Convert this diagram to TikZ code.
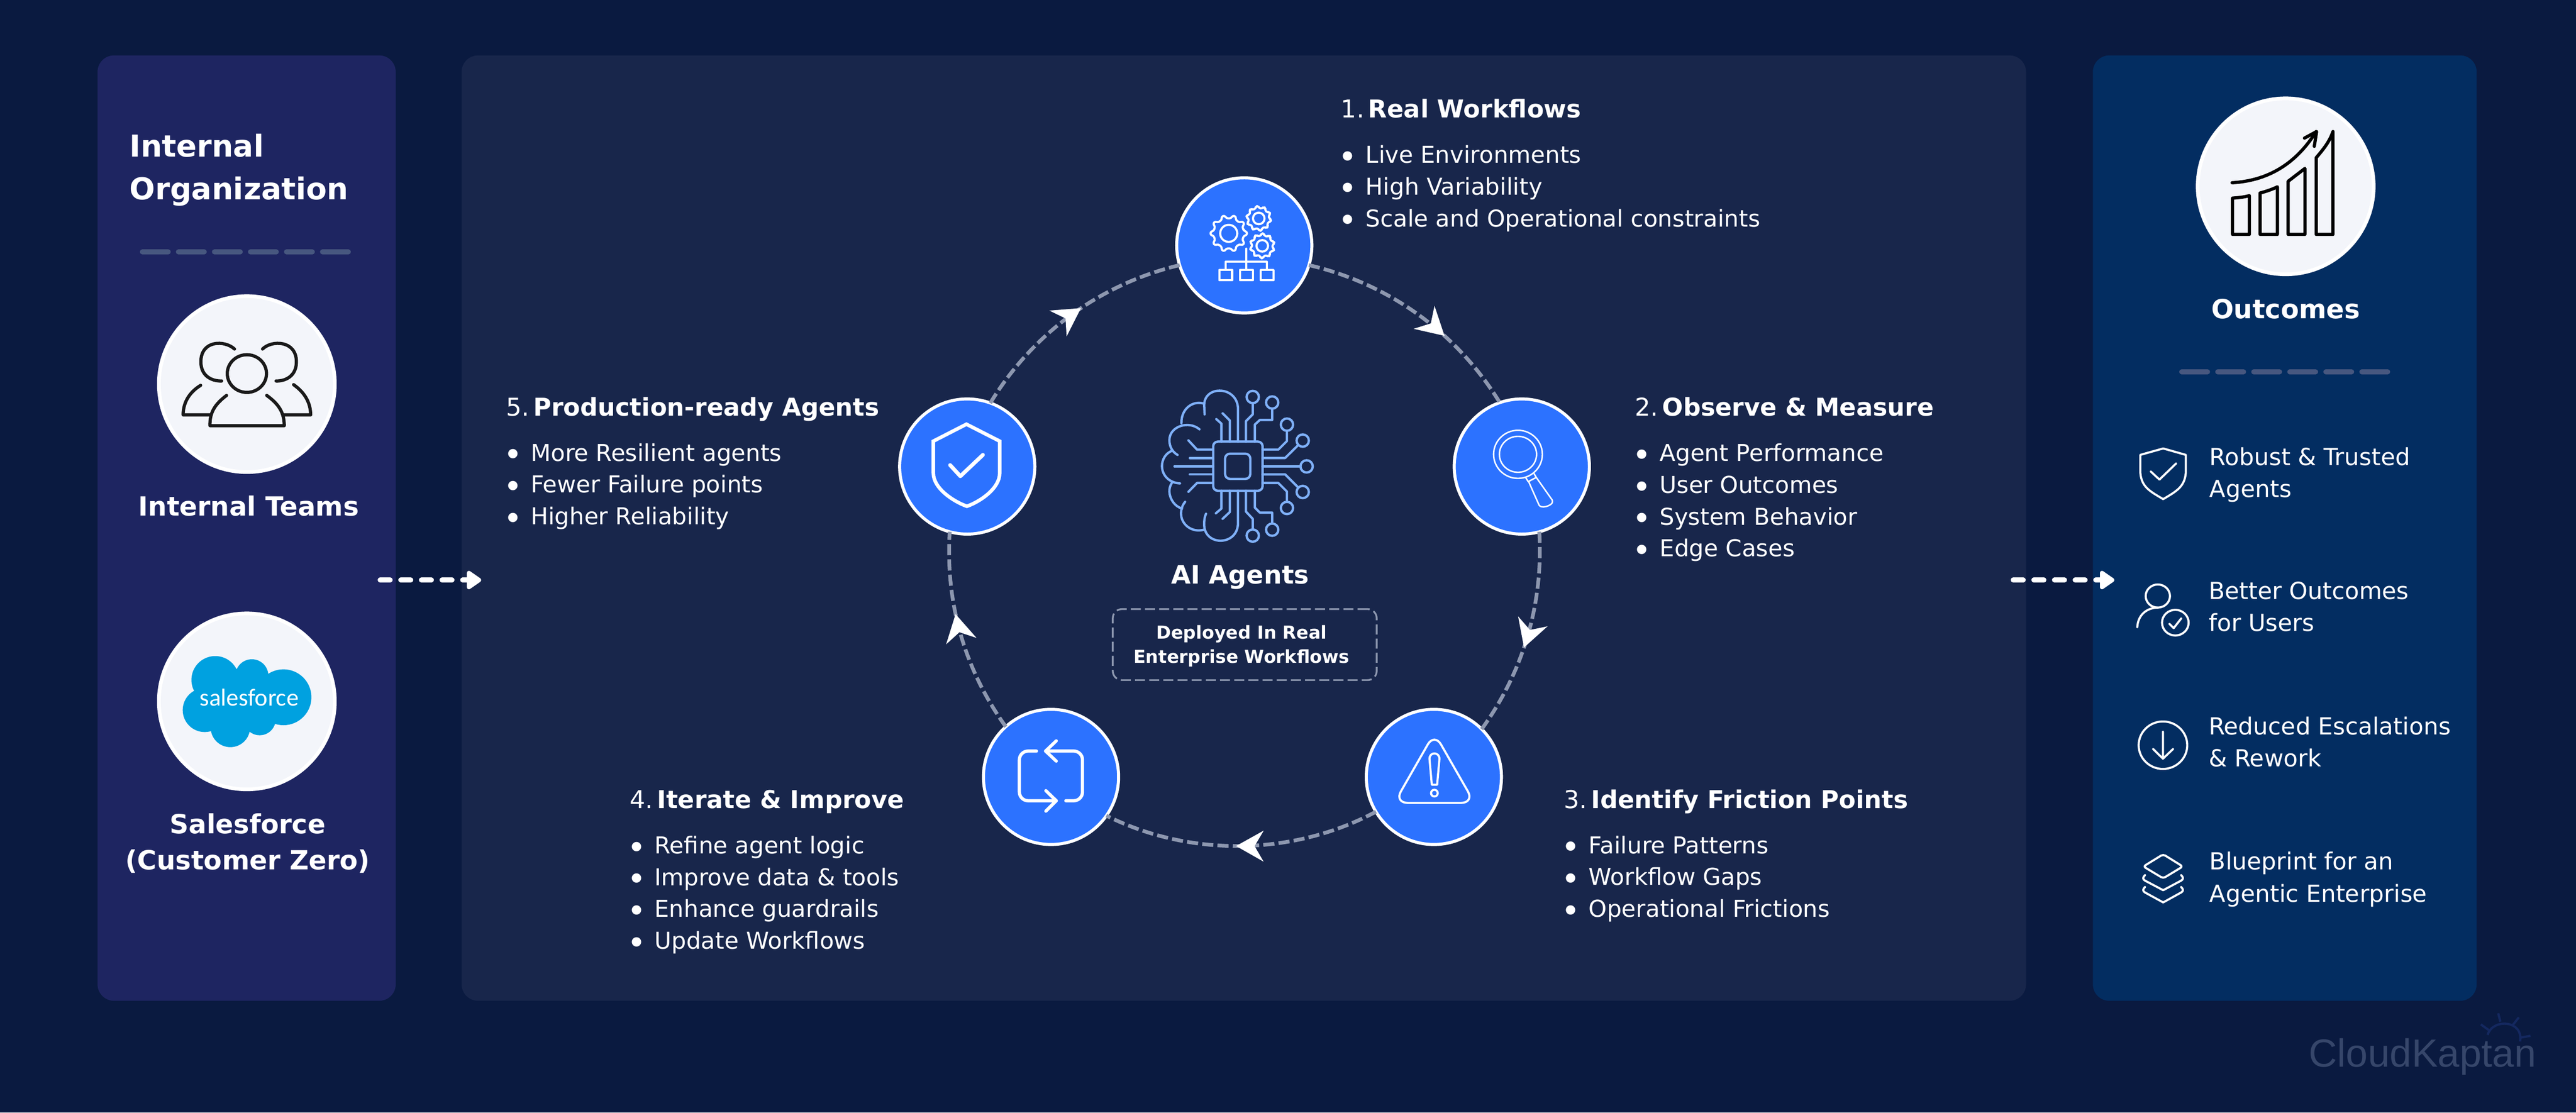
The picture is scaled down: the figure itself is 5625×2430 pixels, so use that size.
\documentclass[tikz,border=0pt]{standalone}
\usepackage{fontspec}
\setmainfont{DejaVu Sans}
\newfontfamily\cloudfont{Carlito}
\newfontfamily\logofont{Liberation Sans}
\usetikzlibrary{arrows.meta,decorations.markings}
\definecolor{bgc}{HTML}{0A1A40}
\definecolor{leftc}{HTML}{1E2561}
\definecolor{midc}{HTML}{18264B}
\definecolor{rightc}{HTML}{032D61}
\definecolor{bluec}{HTML}{2C72FF}
\definecolor{lightc}{HTML}{F3F5FA}
\definecolor{ringc}{HTML}{8D97AF}
\definecolor{brainc}{HTML}{7FB0F8}
\definecolor{sepc}{HTML}{47577F}
\definecolor{sfc}{HTML}{00A1E0}
\definecolor{logoc}{HTML}{36466A}
\definecolor{sunc}{HTML}{14285F}
\definecolor{inkc}{HTML}{1A1A1A}
\tikzset{
  panel/.style={rounded corners=0.36cm},
  bluedisc/.style={circle,draw=white,fill=bluec,line width=1.9pt,minimum size=2.95cm,inner sep=0,outer sep=0},
  lightdisc/.style={circle,draw=white,fill=lightc,line width=2.3pt,minimum size=3.84cm,inner sep=0,outer sep=0},
  txt/.style={text=white,inner sep=0,outer sep=0},
  blocktxt/.style={txt,anchor=base west,align=left,font=\fontsize{14.45}{19.75}\selectfont},
  outtxt/.style={txt,anchor=base west,align=left,font=\fontsize{14.6}{19.9}\selectfont},
  boldtxt/.style={txt,anchor=base,align=center,font=\fontsize{16.4}{22.2}\selectfont\bfseries},
  sepline/.style={draw=sepc,line width=3.2pt,line cap=round,dash pattern=on 16pt off 6.37pt},
  ringline/.style={draw=ringc,line width=2.3pt,dash pattern=on 6.9pt off 2.6pt,looseness=.89},
  ringtip/.style={postaction={decorate,decoration={markings,mark=at position #1 with {\arrow{Stealth[length=17pt,width=19pt,inset=5.5pt,white]}}}}},
  flowline/.style={draw=white,line width=3.1pt,line cap=round,dash pattern=on 6.26pt off 6.55pt,-{Triangle[length=10pt,width=13pt,round,white]}},
  whiteicon/.style={draw=white,line width=1.3pt,line join=round,line cap=round},
  thickicon/.style={draw=white,line width=2pt,line join=round,line cap=round},
  inkicon/.style={draw=inkc,line width=2pt,line join=round,line cap=round},
  brainline/.style={draw=brainc,line width=1.45pt,line join=round,line cap=round},
}
\newcommand\bl[1]{\makebox[15.4pt][l]{\hspace*{-1.6pt}\raisebox{-3.1pt}{\fontsize{20}{20}\selectfont•}}#1}
\newcommand\tit[2]{{\fontsize{15.25}{19.75}\selectfont\makebox[17pt][l]{#1}\textbf{#2}}}
\newcommand\gear[6]{% cx cy ro ri n phase
  \def\gs{(360/#5)}
  \draw[whiteicon,rounded corners=1pt] ({#1+#4*cos(#6-0.25*\gs)},{#2+#4*sin(#6-0.25*\gs)})
    \foreach \i in {1,...,#5}{
      -- ({#1+#3*cos(#6+(\i-1)*\gs-0.15*\gs)},{#2+#3*sin(#6+(\i-1)*\gs-0.15*\gs)})
      -- ({#1+#3*cos(#6+(\i-1)*\gs+0.15*\gs)},{#2+#3*sin(#6+(\i-1)*\gs+0.15*\gs)})
      -- ({#1+#4*cos(#6+(\i-1)*\gs+0.25*\gs)},{#2+#4*sin(#6+(\i-1)*\gs+0.25*\gs)})
      -- ({#1+#4*cos(#6+(\i-1)*\gs+0.75*\gs)},{#2+#4*sin(#6+(\i-1)*\gs+0.75*\gs)})
    } -- cycle;
}
\begin{document}
\begin{tikzpicture}[x=0.01cm,y=-0.01cm]
\useasboundingbox (0,0) rectangle (5625,2430);
\fill[bgc] (0,0) rectangle (5625,2430);
% panels
\fill[leftc,panel] (213,121) rectangle (864,2186);
\fill[midc,panel] (1008,121) rectangle (4424,2186);
\fill[rightc,panel] (4570,121) rectangle (5408,2186);

% left panel
\node[txt,anchor=base west,align=left,font=\fontsize{18.7}{26.7}\selectfont\bfseries] (orgt) at (283,436) {Internal\\Organization};
\draw[sepline] (311,550) -- (761,550);
\node[lightdisc] (teams) at (539,839) {};
\node[boldtxt] (teamst) at (543,1127) {Internal Teams};
\begin{scope}[shift={(200,100)},x=0.0051cm,y=-0.00734cm]
  \draw[inkicon] (665,975) ellipse [x radius=84,y radius=56];
  \draw[inkicon] (578,1040) .. controls (530,1065) and (505,1090) .. (507,1130) -- (825,1130) .. controls (825,1090) and (800,1065) .. (750,1040);
  \draw[inkicon] (467,1010) .. controls (420,1030) and (392,1060) .. (392,1098) -- (510,1098);
  \draw[inkicon] (865,1008) .. controls (910,1030) and (938,1060) .. (938,1098) -- (820,1098);
  \draw[inkicon] (612,902) .. controls (570,875) and (468,875) .. (468,940) .. controls (468,985) and (520,998) .. (557,997);
  \draw[inkicon] (732,902) .. controls (770,875) and (877,875) .. (877,940) .. controls (877,985) and (825,998) .. (790,997);
\end{scope}
\node[lightdisc] (sf) at (539,1532) {};
\fill[sfc] (470,1485) circle (52) (550,1476) circle (36) (619,1523) circle (61)
  (447,1551) circle (48) (503,1589) circle (43) (567,1571) circle (35) (530,1530) circle (70);
\node[txt,font=\fontsize{15.2}{18}\selectfont\cloudfont] (sflogo) at (544,1523) {salesforce};
\node[boldtxt] (sft) at (541,1899) {Salesforce\\(Customer Zero)};

% flow arrows
\coordinate (fa1) at (830,1267);
\coordinate (fa2) at (1051,1267);
\coordinate (fb1) at (4396,1267);
\coordinate (fb2) at (4617,1267);
\draw[flowline] (fa1) -- (fa2);
\draw[flowline] (fb1) -- (fb2);

% cycle nodes
\node[bluedisc] (n1) at (2717,536) {};
\node[bluedisc] (n2) at (3323,1019) {};
\node[bluedisc] (n3) at (3131,1697) {};
\node[bluedisc] (n4) at (2295,1697) {};
\node[bluedisc] (n5) at (2112,1019) {};
\draw[ringline,ringtip=.64] (n1.-17.5) to[bend left=22.8] (n2.109);
\draw[ringline,ringtip=.56] (n2.-75) to[bend left=19.6] (n3.45);
\draw[ringline,ringtip=.52] (n3.211) to[bend left=27.3] (n4.-35.5);
\draw[ringline,ringtip=.6] (n4.132) to[bend left=19.7] (n5.255);
\draw[ringline,ringtip=.55] (n5.70.6) to[bend left=22.7] (n1.197.5);

% icon 1
\begin{scope}[shift={(2500,340)},x=0.003333cm,y=-0.003333cm]
  \gear{550}{510}{120}{100}{10}{0}
  \draw[whiteicon] (550,510) circle (56);
  \gear{747}{412}{82}{68}{10}{10}
  \draw[whiteicon] (747,412) circle (38);
  \gear{770}{592}{82}{68}{10}{20}
  \draw[whiteicon] (770,592) circle (38);
  \draw[whiteicon] (665,610) -- (665,745) (530,745) -- (530,697) -- (800,697) -- (800,745);
  \draw[whiteicon] (488,750) rectangle (572,818) (624,750) rectangle (708,818) (760,750) rectangle (844,818);
\end{scope}
% icon 2
\begin{scope}[shift={(3100,820)},x=0.003333cm,y=-0.0051cm]
  \draw[draw=white,line width=.9pt] (645,338) ellipse [x radius=160,y radius=103];
  \draw[draw=white,line width=.9pt] (645,338) ellipse [x radius=122,y radius=77];
  \draw[draw=white,line width=.9pt,line join=round] (695,437) -- (712,455) -- (765,437) -- (750,420);
  \draw[draw=white,line width=.9pt,line join=round] (715,455) -- (783,555) .. controls (795,572) and (860,560) .. (870,545) .. controls (873,535) and (868,530) .. (860,525) -- (765,437);
\end{scope}
% icon 3
\begin{scope}[shift={(3000,1560)},x=0.003333cm,y=-0.003333cm]
  \draw[whiteicon,rounded corners=0.29cm] (397,123) -- (660,582) -- (134,582) -- cycle;
  \draw[whiteicon] (380,463) -- (365,295) .. controls (362,245) and (432,245) .. (430,295) -- (415,463) -- cycle;
  \draw[whiteicon] (397,518) circle (22);
\end{scope}
% icon 4
\begin{scope}[shift={(2160,1560)},x=0.003333cm,y=-0.003333cm]
  \draw[thickicon,rounded corners=0.19cm] (310,242) -- (198,242) -- (198,568) -- (440,568);
  \draw[thickicon] (372,502) -- (440,568) -- (372,636);
  \draw[thickicon,rounded corners=0.19cm] (503,568) -- (612,568) -- (612,242) -- (370,242);
  \draw[thickicon] (440,175) -- (370,242) -- (440,308);
\end{scope}
% icon 5
\begin{scope}[shift={(1900,820)},x=0.003333cm,y=-0.00638cm]
  \draw[draw=white,line width=2.2pt,line join=miter] (632,167) -- (850,225) -- (850,335) .. controls (850,385) and (730,430) .. (635,448) .. controls (540,430) and (415,385) .. (415,335) -- (415,225) -- cycle;
  \draw[draw=white,line width=2.4pt,line cap=round,line join=round] (525,307) -- (592,345) -- (740,272);
\end{scope}

% centre
\begin{scope}[shift={(2400,800)},x=0.004464cm,y=-0.004464cm]
  \draw[brainline,rounded corners=0.1cm] (557,368) rectangle (798,608);
  \draw[brainline,rounded corners=3pt] (615,427) rectangle (738,550);
  \foreach \c in {(750,150),(845,177),(917,285),(994,363),(1013,489),(994,614),(917,692),(845,798),(750,827)}
    \draw[brainline] \c circle (30);
  \draw[brainline] (597,368) -- (597,280) -- (572,258);
  \draw[brainline] (638,368) -- (638,265) -- (603,230);
  \draw[brainline] (678,368) -- (678,210) .. controls (678,95) and (513,90) .. (513,190) -- (515,235);
  \draw[brainline] (717,368) -- (717,268) -- (750,235) -- (750,180);
  \draw[brainline] (760,368) -- (760,285) -- (785,262) -- (845,262) -- (845,208);
  \draw[brainline] (798,407) -- (875,407) -- (917,365) -- (917,315);
  \draw[brainline] (798,448) -- (908,448) -- (972,385);
  \draw[brainline] (798,489) -- (983,489);
  \draw[brainline] (798,528) -- (908,528) -- (972,592);
  \draw[brainline] (798,570) -- (875,570) -- (917,612) -- (917,662);
  \draw[brainline] (760,608) -- (760,690) -- (785,715) -- (845,715) -- (845,768);
  \draw[brainline] (717,608) -- (717,710) -- (750,745) -- (750,797);
  \draw[brainline] (678,608) -- (678,765) .. controls (678,880) and (510,880) .. (513,770) .. controls (513,750) and (515,735) .. (522,720);
  \draw[brainline] (638,608) -- (638,712) -- (603,745);
  \draw[brainline] (597,608) -- (597,695) -- (570,718);
  \draw[brainline] (557,407) -- (478,407) -- (436,362);
  \draw[brainline] (557,448) -- (443,448);
  \draw[brainline] (557,489) -- (368,489);
  \draw[brainline] (557,528) -- (443,528);
  \draw[brainline] (557,570) -- (478,570) -- (436,613);
  \draw[brainline] (513,183) .. controls (460,165) and (400,205) .. (402,278);
  \draw[brainline] (490,308) .. controls (440,265) and (345,290) .. (343,360) .. controls (343,395) and (360,420) .. (383,433);
  \draw[brainline] (355,413) .. controls (325,425) and (307,455) .. (307,487) .. controls (307,535) and (345,570) .. (395,572);
  \draw[brainline] (355,570) .. controls (345,585) and (343,600) .. (343,612) .. controls (345,650) and (370,685) .. (405,695);
  \draw[brainline] (420,662) .. controls (405,680) and (400,700) .. (400,720) .. controls (400,770) and (450,815) .. (513,798);
\end{scope}
\node[boldtxt,font=\fontsize{15.7}{20}\selectfont\bfseries] (ai) at (2708,1275) {AI Agents};
\node[rectangle,rounded corners=0.2cm,draw=ringc,line width=1.1pt,dash pattern=on 6.2pt off 2.6pt,minimum width=5.76cm,minimum height=1.55cm,inner sep=0,outer sep=0] (dep) at (2718,1408) {};
\node[boldtxt,font=\fontsize{11.1}{15}\selectfont\bfseries] (dept) at (2711,1448) {Deployed In Real\\Enterprise Workflows};

% step texts
\node[blocktxt] (s1) at (2928,495) {\tit{1.}{Real Workflows}\\[8.4pt]\bl{Live Environments}\\\bl{High Variability}\\\bl{Scale and Operational constraints}};
\node[blocktxt] (s2) at (3570,1216) {\tit{2.}{Observe \& Measure}\\[8.4pt]\bl{Agent Performance}\\\bl{User Outcomes}\\\bl{System Behavior}\\\bl{Edge Cases}};
\node[blocktxt] (s3) at (3415,2003) {\tit{3.}{Identify Friction Points}\\[8.4pt]\bl{Failure Patterns}\\\bl{Workflow Gaps}\\\bl{Operational Frictions}};
\node[blocktxt] (s4) at (1375,2073) {\tit{4.}{Iterate \& Improve}\\[8.4pt]\bl{Refine agent logic}\\\bl{Improve data \& tools}\\\bl{Enhance guardrails}\\\bl{Update Workflows}};
\node[blocktxt] (s5) at (1105,1146) {\tit{5.}{Production-ready Agents}\\[8.4pt]\bl{More Resilient agents}\\\bl{Fewer Failure points}\\\bl{Higher Reliability}};

% right panel
\node[lightdisc] (out) at (4991,407) {};
\begin{scope}[shift={(4620,180)},x=0.0051cm,y=-0.004464cm]
  \draw[inkicon,draw=black] (500,565) .. controls (525,563) and (550,560) .. (572,553) -- (572,742) -- (500,742) -- cycle;
  \draw[inkicon,draw=black] (618,540) .. controls (645,532) and (670,522) .. (692,510) -- (692,742) -- (618,742) -- cycle;
  \draw[inkicon,draw=black] (738,483) -- (810,420) -- (810,742) -- (738,742) -- cycle;
  \draw[inkicon,draw=black] (858,368) .. controls (890,325) and (915,290) .. (930,240) -- (930,742) -- (858,742) -- cycle;
  \draw[inkicon,draw=black] (498,490) .. controls (650,480) and (770,400) .. (858,240);
  \draw[inkicon,draw=black] (808,272) -- (860,240) -- (850,312);
\end{scope}
\node[boldtxt] (outt) at (4991,696) {Outcomes};
\draw[sepline] (4764,812) -- (5214,812);
\begin{scope}[shift={(4620,920)},x=0.0051cm,y=-0.00701cm]
  \draw[whiteicon] (203,85) -- (300,105) -- (300,160) .. controls (295,205) and (260,218) .. (203,243) .. controls (145,218) and (110,205) .. (105,160) -- (105,105) -- cycle;
  \draw[whiteicon] (150,157) -- (187,182) -- (258,132);
  \draw[whiteicon] (180,545) ellipse [x radius=52,y radius=36];
  \draw[whiteicon] (92,642) .. controls (95,605) and (130,582) .. (180,581);
  \draw[whiteicon] (255,628) ellipse [x radius=57,y radius=40];
  \draw[whiteicon] (230,632) -- (248,645) -- (280,615);
  \draw[whiteicon] (202,1010) ellipse [x radius=104,y radius=74];
  \draw[whiteicon] (202,968) -- (202,1052) (160,1022) -- (202,1052) -- (245,1022);
  \draw[whiteicon,rounded corners=1.5pt] (203,1350) -- (287,1388) -- (203,1425) -- (118,1388) -- cycle;
  \draw[whiteicon] (125,1415) .. controls (115,1422) and (115,1428) .. (125,1432) -- (203,1462) -- (280,1432) .. controls (290,1428) and (290,1422) .. (280,1415);
  \draw[whiteicon] (125,1452) .. controls (115,1459) and (115,1465) .. (125,1469) -- (203,1500) -- (280,1469) .. controls (290,1465) and (290,1459) .. (280,1452);
\end{scope}
\node[outtxt] (o1) at (4825,1086) {Robust \& Trusted\\Agents};
\node[outtxt] (o2) at (4823,1379) {Better Outcomes\\for Users};
\node[outtxt] (o3) at (4823,1675) {Reduced Escalations\\\& Rework};
\node[outtxt] (o4) at (4825,1970) {Blueprint for an\\Agentic Enterprise};

% logo
\node[txt,text=logoc,anchor=base west,font=\fontsize{24.4}{28}\selectfont\logofont] (logo) at (5042,2330) {CloudKaptan};
\begin{scope}[shift={(4900,2170)},x=0.004623cm,y=-0.003333cm]
  \draw[sunc,line width=1.4pt] (1150,272) .. controls (1170,165) and (1320,170) .. (1303,315);
  \draw[sunc,line width=1.4pt] (1200,130) -- (1210,185) (1297,157) -- (1270,205) (1118,203) -- (1155,240) (1352,278) -- (1305,290);
\end{scope}
\end{tikzpicture}
\end{document}
